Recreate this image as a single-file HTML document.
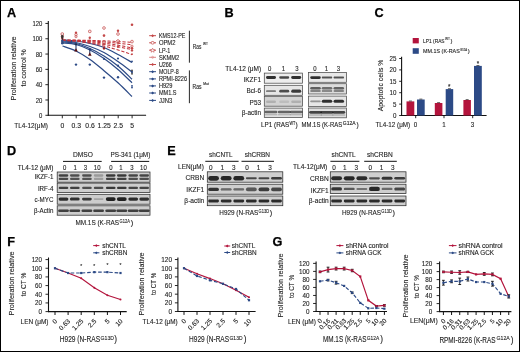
<!DOCTYPE html><html><head><meta charset="utf-8"><style>html,body{margin:0;padding:0;background:#fff}svg{display:block;filter:blur(0.3px)}</style></head><body>
<svg width="520" height="352" viewBox="0 0 520 352" font-family='"Liberation Sans", sans-serif' fill="#222">
<style>text{stroke:#2a2a2a;stroke-width:0.12px}</style>
<defs><filter id="bl" x="-20%" y="-100%" width="140%" height="300%"><feGaussianBlur stdDeviation="0.55"/></filter><filter id="bl2" x="-20%" y="-100%" width="140%" height="300%"><feGaussianBlur stdDeviation="0.45"/></filter></defs>
<rect x="0" y="0" width="520" height="352" fill="#fff"/>
<text x="7.1" y="17.1" font-size="12.7" font-weight="bold" fill="#000" style="stroke:#000;stroke-width:0.25px">A</text>
<text x="224.4" y="17.1" font-size="12.7" font-weight="bold" fill="#000" style="stroke:#000;stroke-width:0.25px">B</text>
<text x="374.5" y="17.1" font-size="12.7" font-weight="bold" fill="#000" style="stroke:#000;stroke-width:0.25px">C</text>
<text x="7.1" y="155.0" font-size="12.7" font-weight="bold" fill="#000" style="stroke:#000;stroke-width:0.25px">D</text>
<text x="167.3" y="155.0" font-size="12.7" font-weight="bold" fill="#000" style="stroke:#000;stroke-width:0.25px">E</text>
<text x="7.3" y="246.3" font-size="12.7" font-weight="bold" fill="#000" style="stroke:#000;stroke-width:0.25px">F</text>
<text x="272.5" y="246.2" font-size="12.7" font-weight="bold" fill="#000" style="stroke:#000;stroke-width:0.25px">G</text>
<line x1="48.3" y1="21" x2="48.3" y2="115.8" stroke="#111" stroke-width="1.1"/>
<line x1="47.8" y1="115.3" x2="146.1" y2="115.3" stroke="#111" stroke-width="1.1"/>
<line x1="45.4" y1="115.3" x2="48.3" y2="115.3" stroke="#111" stroke-width="0.9"/>
<text x="42.4" y="117.88" font-size="7.17" text-anchor="end" textLength="3.3" lengthAdjust="spacingAndGlyphs">0</text>
<line x1="45.4" y1="99.99" x2="48.3" y2="99.99" stroke="#111" stroke-width="0.9"/>
<text x="42.4" y="102.57" font-size="7.17" text-anchor="end" textLength="6.6" lengthAdjust="spacingAndGlyphs">20</text>
<line x1="45.4" y1="84.68" x2="48.3" y2="84.68" stroke="#111" stroke-width="0.9"/>
<text x="42.4" y="87.26" font-size="7.17" text-anchor="end" textLength="6.6" lengthAdjust="spacingAndGlyphs">40</text>
<line x1="45.4" y1="69.37" x2="48.3" y2="69.37" stroke="#111" stroke-width="0.9"/>
<text x="42.4" y="71.95" font-size="7.17" text-anchor="end" textLength="6.6" lengthAdjust="spacingAndGlyphs">60</text>
<line x1="45.4" y1="54.06" x2="48.3" y2="54.06" stroke="#111" stroke-width="0.9"/>
<text x="42.4" y="56.64" font-size="7.17" text-anchor="end" textLength="6.6" lengthAdjust="spacingAndGlyphs">80</text>
<line x1="45.4" y1="38.75" x2="48.3" y2="38.75" stroke="#111" stroke-width="0.9"/>
<text x="42.4" y="41.33" font-size="7.17" text-anchor="end" textLength="9.9" lengthAdjust="spacingAndGlyphs">100</text>
<line x1="45.4" y1="23.44" x2="48.3" y2="23.44" stroke="#111" stroke-width="0.9"/>
<text x="42.4" y="26.02" font-size="7.17" text-anchor="end" textLength="9.9" lengthAdjust="spacingAndGlyphs">120</text>
<line x1="62.3" y1="115.3" x2="62.3" y2="118.3" stroke="#111" stroke-width="0.9"/>
<text x="62.3" y="127.55" font-size="6.8" text-anchor="middle">0</text>
<line x1="76.2" y1="115.3" x2="76.2" y2="118.3" stroke="#111" stroke-width="0.9"/>
<text x="76.2" y="127.55" font-size="6.8" text-anchor="middle">0.3</text>
<line x1="90.1" y1="115.3" x2="90.1" y2="118.3" stroke="#111" stroke-width="0.9"/>
<text x="90.1" y="127.55" font-size="6.8" text-anchor="middle">0.6</text>
<line x1="104.2" y1="115.3" x2="104.2" y2="118.3" stroke="#111" stroke-width="0.9"/>
<text x="104.2" y="127.55" font-size="6.8" text-anchor="middle">1.25</text>
<line x1="118.2" y1="115.3" x2="118.2" y2="118.3" stroke="#111" stroke-width="0.9"/>
<text x="118.2" y="127.55" font-size="6.8" text-anchor="middle">2.5</text>
<line x1="132.1" y1="115.3" x2="132.1" y2="118.3" stroke="#111" stroke-width="0.9"/>
<text x="132.1" y="127.55" font-size="6.8" text-anchor="middle">5</text>
<text x="14.2" y="127.64" font-size="7.62" textLength="33.8" lengthAdjust="spacingAndGlyphs">TL4-12(μM)</text>
<text x="0" y="0" font-size="7.78" text-anchor="middle" textLength="64" lengthAdjust="spacingAndGlyphs" transform="translate(15.8 68.4) rotate(-90)">Proliferation relative</text>
<text x="0" y="0" font-size="7.78" text-anchor="middle" textLength="37.3" lengthAdjust="spacingAndGlyphs" transform="translate(26 67.9) rotate(-90)">to control %</text>
<path d="M62.5,40 C64.75,40.17 71.42,40.42 76,41 C80.58,41.58 85.33,42.42 90,43.5 C94.67,44.58 99.33,45.67 104,47.5 C108.67,49.33 113.33,52 118,54.5 C122.67,57 129.67,61.17 132,62.5" fill="none" stroke="#2c4a86" stroke-width="1.25"/>
<path d="M62.5,41 C64.75,41.25 71.42,41.58 76,42.5 C80.58,43.42 85.33,44.83 90,46.5 C94.67,48.17 99.33,50 104,52.5 C108.67,55 113.33,58.25 118,61.5 C122.67,64.75 129.67,70.25 132,72" fill="none" stroke="#2c4a86" stroke-width="1.25"/>
<path d="M62.5,42 C64.75,42.25 71.42,42.42 76,43.5 C80.58,44.58 85.33,46.42 90,48.5 C94.67,50.58 99.33,53.08 104,56 C108.67,58.92 113.33,62.13 118,66 C122.67,69.87 129.67,77 132,79.2" fill="none" stroke="#2c4a86" stroke-width="1.25"/>
<path d="M62.5,43 C64.75,43.25 71.42,43.33 76,44.5 C80.58,45.67 85.33,47.67 90,50 C94.67,52.33 99.33,55.25 104,58.5 C108.67,61.75 113.33,65.45 118,69.5 C122.67,73.55 129.67,80.58 132,82.8" fill="none" stroke="#2c4a86" stroke-width="1.25"/>
<path d="M62.5,46 C64.75,46.83 71.42,48.75 76,51 C80.58,53.25 85.33,56.22 90,59.5 C94.67,62.78 99.33,66.82 104,70.7 C108.67,74.58 113.33,78.5 118,82.8 C122.67,87.1 129.67,94.22 132,96.5" fill="none" stroke="#2c4a86" stroke-width="1.25"/>
<polyline points="62.5,40 64.82,40 67.14,40.01 69.46,40.02 71.78,40.04 74.1,40.07 76.42,40.1 78.74,40.13 81.06,40.17 83.38,40.22 85.7,40.27 88.02,40.32 90.34,40.38 92.66,40.45 94.98,40.52 97.3,40.6 99.62,40.68 101.94,40.77 104.26,40.86 106.58,40.96 108.9,41.07 111.22,41.18 113.54,41.29 115.86,41.41 118.18,41.54 120.5,41.67 122.82,41.8 125.14,41.94 127.46,42.09 129.78,42.24 132.1,42.4" fill="none" stroke="#c0323a" stroke-width="1.05" stroke-dasharray="3.2,1.8"/>
<polyline points="62.5,40.2 64.82,40.21 67.14,40.22 69.46,40.25 71.78,40.28 74.1,40.33 76.42,40.39 78.74,40.46 81.06,40.53 83.38,40.62 85.7,40.72 88.02,40.83 90.34,40.95 92.66,41.08 94.98,41.22 97.3,41.38 99.62,41.54 101.94,41.71 104.26,41.89 106.58,42.09 108.9,42.29 111.22,42.5 113.54,42.73 115.86,42.96 118.18,43.21 120.5,43.46 122.82,43.73 125.14,44.01 127.46,44.29 129.78,44.59 132.1,44.9" fill="none" stroke="#c0323a" stroke-width="1.05" stroke-dasharray="3.2,1.8"/>
<polyline points="62.5,40.3 64.82,40.31 67.14,40.34 69.46,40.4 71.78,40.47 74.1,40.55 76.42,40.66 78.74,40.78 81.06,40.92 83.38,41.07 85.7,41.24 88.02,41.43 90.34,41.63 92.66,41.85 94.98,42.09 97.3,42.34 99.62,42.6 101.94,42.88 104.26,43.18 106.58,43.49 108.9,43.82 111.22,44.16 113.54,44.52 115.86,44.89 118.18,45.27 120.5,45.67 122.82,46.09 125.14,46.52 127.46,46.97 129.78,47.43 132.1,47.9" fill="none" stroke="#c0323a" stroke-width="1.05" stroke-dasharray="3.2,1.8"/>
<polyline points="62.5,40.4 64.82,40.44 67.14,40.52 69.46,40.63 71.78,40.77 74.1,40.92 76.42,41.1 78.74,41.3 81.06,41.51 83.38,41.74 85.7,41.99 88.02,42.25 90.34,42.52 92.66,42.81 94.98,43.12 97.3,43.43 99.62,43.77 101.94,44.11 104.26,44.46 106.58,44.83 108.9,45.21 111.22,45.6 113.54,46 115.86,46.41 118.18,46.84 120.5,47.27 122.82,47.72 125.14,48.17 127.46,48.64 129.78,49.11 132.1,49.6" fill="none" stroke="#c0323a" stroke-width="1.05" stroke-dasharray="3.2,1.8"/>
<polyline points="62.5,40.5 64.82,40.53 67.14,40.61 69.46,40.73 71.78,40.88 74.1,41.06 76.42,41.28 78.74,41.53 81.06,41.82 83.38,42.13 85.7,42.47 88.02,42.83 90.34,43.23 92.66,43.65 94.98,44.1 97.3,44.58 99.62,45.08 101.94,45.61 104.26,46.16 106.58,46.74 108.9,47.34 111.22,47.97 113.54,48.63 115.86,49.3 118.18,50 120.5,50.73 122.82,51.48 125.14,52.25 127.46,53.04 129.78,53.86 132.1,54.7" fill="none" stroke="#c0323a" stroke-width="1.05" stroke-dasharray="3.2,1.8"/>
<rect x="61.1" y="32.8" width="2.4" height="2.4" rx="0.72" fill="#fff" fill-opacity="0.5" stroke="#c44848" stroke-width="0.8"/>
<circle cx="62.3" cy="36.6" r="1.1" fill="none" stroke="#c44848" stroke-width="0.7"/>
<circle cx="62.3" cy="38.4" r="1.2" fill="#c44848"/>
<line x1="62.3" y1="35.8" x2="62.3" y2="43" stroke="#222" stroke-width="1"/>
<line x1="61" y1="35.8" x2="63.6" y2="35.8" stroke="#222" stroke-width="0.9"/>
<line x1="61" y1="43" x2="63.6" y2="43" stroke="#222" stroke-width="0.9"/>
<circle cx="62.3" cy="37" r="1.2" fill="#333"/>
<circle cx="62.3" cy="41" r="1.3" fill="#2c4a86"/>
<circle cx="62.3" cy="43.3" r="1.2" fill="#2c4a86"/>
<circle cx="76" cy="32.8" r="1.2" fill="#c44848"/>
<rect x="74.9" y="33.5" width="2.2" height="2.2" rx="0.66" fill="#fff" fill-opacity="0.5" stroke="#c44848" stroke-width="0.8"/>
<circle cx="76" cy="36.7" r="1.1" fill="none" stroke="#c44848" stroke-width="0.7"/>
<circle cx="76" cy="44.3" r="1.2" fill="#2c4a86"/>
<line x1="76" y1="44" x2="76" y2="50.5" stroke="#233a6a" stroke-width="1.1"/>
<line x1="74.9" y1="44.2" x2="77.1" y2="44.2" stroke="#222" stroke-width="0.8"/>
<path d="M76,48.2 L77.8,51.44 L74.2,51.44Z" fill="#5a1010"/>
<circle cx="76" cy="64.6" r="1.2" fill="#2c4a86"/>
<rect x="88.6" y="30.2" width="2.4" height="2.4" rx="0.72" fill="#fff" fill-opacity="0.5" stroke="#c44848" stroke-width="0.8"/>
<circle cx="89.8" cy="37.8" r="1.2" fill="#c44848"/>
<circle cx="89.8" cy="41" r="1" fill="none" stroke="#c44848" stroke-width="0.7"/>
<circle cx="89.8" cy="49.3" r="1.2" fill="#2c4a86"/>
<line x1="89.8" y1="49" x2="89.8" y2="55" stroke="#233a6a" stroke-width="1.1"/>
<path d="M89.8,52.6 L91.6,55.84 L88,55.84Z" fill="#5a1010"/>
<circle cx="89.8" cy="64.6" r="1.2" fill="#2c4a86"/>
<rect x="102.8" y="26.8" width="2.4" height="2.4" rx="0.72" fill="#fff" fill-opacity="0.5" stroke="#c44848" stroke-width="0.8"/>
<circle cx="104" cy="35.6" r="1.3" fill="#c44848"/>
<path d="M104,40.3 L104.53,41.57 L105.9,41.68 L104.86,42.58 L105.18,43.92 L104,43.2 L102.82,43.92 L103.14,42.58 L102.1,41.68 L103.47,41.57Z" fill="#fff" fill-opacity="0.6" stroke="#c44848" stroke-width="0.6"/>
<circle cx="104" cy="44.2" r="1" fill="none" stroke="#c44848" stroke-width="0.7"/>
<circle cx="104" cy="48.4" r="1.2" fill="#a02020"/>
<circle cx="104" cy="58.9" r="1.1" fill="#2c4a86"/>
<circle cx="104" cy="77.6" r="1.2" fill="#2c4a86"/>
<circle cx="118" cy="30.8" r="1.2" fill="#c44848"/>
<rect x="116.8" y="32.8" width="2.4" height="2.4" rx="0.72" fill="#fff" fill-opacity="0.5" stroke="#c44848" stroke-width="0.8"/>
<path d="M118,39.1 L118.56,40.44 L120,40.55 L118.9,41.49 L119.23,42.9 L118,42.15 L116.77,42.9 L117.1,41.49 L116,40.55 L117.44,40.44Z" fill="#fff" fill-opacity="0.6" stroke="#c44848" stroke-width="0.6"/>
<circle cx="118" cy="43" r="1" fill="none" stroke="#c44848" stroke-width="0.7"/>
<circle cx="118" cy="46.8" r="1.2" fill="#c44848"/>
<circle cx="118" cy="58.5" r="1.1" fill="#2c4a86"/>
<circle cx="118" cy="65.7" r="1.1" fill="#2c4a86"/>
<circle cx="118" cy="77.3" r="1.2" fill="#2c4a86"/>
<circle cx="132" cy="24.8" r="1.3" fill="#c44848"/>
<rect x="130.8" y="40.4" width="2.4" height="2.4" rx="0.72" fill="#fff" fill-opacity="0.5" stroke="#c44848" stroke-width="0.8"/>
<circle cx="132" cy="46.2" r="1.1" fill="none" stroke="#c44848" stroke-width="0.7"/>
<circle cx="132" cy="48.2" r="1.3" fill="#c44848"/>
<circle cx="132" cy="50.4" r="1.2" fill="#c44848"/>
<circle cx="132" cy="54.2" r="0.9" fill="#c44848"/>
<circle cx="132" cy="61.4" r="0.9" fill="#2c4a86"/>
<line x1="132" y1="70.2" x2="132" y2="74" stroke="#222" stroke-width="0.9"/>
<line x1="131" y1="70.2" x2="133" y2="70.2" stroke="#222" stroke-width="0.8"/>
<line x1="131" y1="74" x2="133" y2="74" stroke="#222" stroke-width="0.8"/>
<circle cx="132" cy="72" r="1" fill="#2c4a86"/>
<circle cx="132" cy="85.8" r="0.9" fill="#2c4a86"/>
<circle cx="132" cy="87.5" r="0.9" fill="#2c4a86"/>
<line x1="149.2" y1="35.7" x2="156" y2="35.7" stroke="#c44848" stroke-width="1"/>
<path d="M152.6,34.2 L154.1,35.7 L152.6,37.2 L151.1,35.7Z" fill="#c44848"/>
<text x="158.9" y="38" font-size="6.38" textLength="26.4" lengthAdjust="spacingAndGlyphs">KMS12-PE</text>
<line x1="149.2" y1="42.8" x2="156" y2="42.8" stroke="#c44848" stroke-width="1"/>
<rect x="151.3" y="41.5" width="2.6" height="2.6" rx="0.8" fill="#fff" stroke="#c44848" stroke-width="0.7"/>
<text x="158.9" y="45.1" font-size="6.38" textLength="16.6" lengthAdjust="spacingAndGlyphs">OPM2</text>
<line x1="149.2" y1="50.2" x2="156" y2="50.2" stroke="#c44848" stroke-width="1"/>
<path d="M152.6,48.2 L153.3,49.7 L154.9,49.8 L153.7,50.8 L154.1,52.2 L152.6,51.4 L151.1,52.2 L151.5,50.8 L150.3,49.8 L151.9,49.7Z" fill="#fff" stroke="#c44848" stroke-width="0.6"/>
<text x="158.9" y="52.5" font-size="6.38" textLength="11.5" lengthAdjust="spacingAndGlyphs">LP-1</text>
<line x1="149.2" y1="57.3" x2="156" y2="57.3" stroke="#d88" stroke-width="1"/>
<circle cx="152.6" cy="57.3" r="1" fill="none" stroke="#d88" stroke-width="0.7"/>
<text x="158.9" y="59.6" font-size="6.38" textLength="20.4" lengthAdjust="spacingAndGlyphs">SKMM2</text>
<line x1="149.2" y1="64.5" x2="156" y2="64.5" stroke="#c44848" stroke-width="1"/>
<path d="M152.6,63 L154.1,64.5 L152.6,66 L151.1,64.5Z" fill="#c44848"/>
<text x="158.9" y="66.8" font-size="6.38" textLength="13" lengthAdjust="spacingAndGlyphs">U266</text>
<line x1="149.2" y1="71.7" x2="156" y2="71.7" stroke="#2c4a86" stroke-width="1"/>
<path d="M152.6,70.2 L154.1,71.7 L152.6,73.2 L151.1,71.7Z" fill="#2c4a86"/>
<text x="158.9" y="74" font-size="6.38" textLength="19.7" lengthAdjust="spacingAndGlyphs">MOLP-8</text>
<line x1="149.2" y1="78.9" x2="156" y2="78.9" stroke="#2c4a86" stroke-width="1"/>
<path d="M152.6,77.4 L154.1,78.9 L152.6,80.4 L151.1,78.9Z" fill="#2c4a86"/>
<text x="158.9" y="81.2" font-size="6.38" textLength="28.1" lengthAdjust="spacingAndGlyphs">RPMI-8226</text>
<line x1="149.2" y1="85.9" x2="156" y2="85.9" stroke="#2c4a86" stroke-width="1"/>
<path d="M152.6,84.4 L154.1,85.9 L152.6,87.4 L151.1,85.9Z" fill="#2c4a86"/>
<text x="158.9" y="88.2" font-size="6.38" textLength="13.5" lengthAdjust="spacingAndGlyphs">H929</text>
<line x1="149.2" y1="93" x2="156" y2="93" stroke="#2c4a86" stroke-width="1"/>
<path d="M152.6,91.5 L154.1,93 L152.6,94.5 L151.1,93Z" fill="#2c4a86"/>
<text x="158.9" y="95.3" font-size="6.38" textLength="17.6" lengthAdjust="spacingAndGlyphs">MM1.S</text>
<line x1="149.2" y1="100.4" x2="156" y2="100.4" stroke="#2c4a86" stroke-width="1"/>
<path d="M152.6,98.9 L154.1,100.4 L152.6,101.9 L151.1,100.4Z" fill="#2c4a86"/>
<text x="158.9" y="102.7" font-size="6.38" textLength="13.5" lengthAdjust="spacingAndGlyphs">JJN3</text>
<line x1="189.4" y1="30.7" x2="189.4" y2="62.7" stroke="#111" stroke-width="0.9"/>
<line x1="189.4" y1="70.4" x2="189.4" y2="103.2" stroke="#111" stroke-width="0.9"/>
<text x="192.8" y="48.7" font-size="6.4" textLength="8.5" lengthAdjust="spacingAndGlyphs">Ras</text><text x="203" y="45.1" font-size="3.4" textLength="4.9" lengthAdjust="spacingAndGlyphs">WT</text>
<text x="192.6" y="88.6" font-size="6.4" textLength="8.9" lengthAdjust="spacingAndGlyphs">Ras</text><text x="203.3" y="85.0" font-size="3.4" textLength="5.6" lengthAdjust="spacingAndGlyphs">Mut</text>
<text x="225.3" y="70.92" font-size="6.72" textLength="35.9" lengthAdjust="spacingAndGlyphs">TL4-12 (μM)</text>
<text x="269.7" y="70.92" font-size="6.72" text-anchor="middle" textLength="3.34" lengthAdjust="spacingAndGlyphs">0</text>
<text x="283.3" y="70.92" font-size="6.72" text-anchor="middle" textLength="3.34" lengthAdjust="spacingAndGlyphs">1</text>
<text x="296.8" y="70.92" font-size="6.72" text-anchor="middle" textLength="3.34" lengthAdjust="spacingAndGlyphs">3</text>
<text x="314.8" y="70.92" font-size="6.72" text-anchor="middle" textLength="3.34" lengthAdjust="spacingAndGlyphs">0</text>
<text x="326.3" y="70.92" font-size="6.72" text-anchor="middle" textLength="3.34" lengthAdjust="spacingAndGlyphs">1</text>
<text x="338.3" y="70.92" font-size="6.72" text-anchor="middle" textLength="3.34" lengthAdjust="spacingAndGlyphs">3</text>
<text x="261" y="82.38" font-size="7.17" text-anchor="end" textLength="17.42" lengthAdjust="spacingAndGlyphs">IKZF1</text>
<text x="261" y="93.48" font-size="7.17" text-anchor="end" textLength="14.58" lengthAdjust="spacingAndGlyphs">Bcl-6</text>
<text x="261" y="105.18" font-size="7.17" text-anchor="end" textLength="11.39" lengthAdjust="spacingAndGlyphs">P53</text>
<text x="261" y="115.28" font-size="7.17" text-anchor="end" textLength="19.33" lengthAdjust="spacingAndGlyphs">β-actin</text>
<rect x="264.3" y="73.1" width="38.3" height="10.1" fill="#ededed" stroke="#4a4a4a" stroke-width="0.75"/>
<rect x="264.3" y="85.3" width="38.3" height="10" fill="#e6e6e6" stroke="#4a4a4a" stroke-width="0.75"/>
<rect x="264.3" y="96.3" width="38.3" height="9.9" fill="#d2d2d2" stroke="#4a4a4a" stroke-width="0.75"/>
<rect x="264.3" y="108.1" width="38.3" height="9.5" fill="#e0e0e0" stroke="#4a4a4a" stroke-width="0.75"/>
<rect x="308.6" y="72.4" width="37.8" height="9.9" fill="#e8e8e8" stroke="#4a4a4a" stroke-width="0.75"/>
<rect x="308.6" y="83.7" width="37.8" height="10.3" fill="#dcdcdc" stroke="#4a4a4a" stroke-width="0.75"/>
<rect x="308.6" y="96.1" width="37.8" height="10.4" fill="#e6e6e6" stroke="#4a4a4a" stroke-width="0.75"/>
<rect x="308.6" y="108" width="37.8" height="9.8" fill="#dedede" stroke="#4a4a4a" stroke-width="0.75"/>
<rect x="266" y="76.1" width="10" height="2.8" rx="1.4" fill="#111" fill-opacity="0.85" filter="url(#bl)"/>
<rect x="279.2" y="76.35" width="10" height="2.3" rx="1.15" fill="#111" fill-opacity="0.75" filter="url(#bl)"/>
<rect x="291.2" y="76.1" width="10" height="2.8" rx="1.4" fill="#111" fill-opacity="0.85" filter="url(#bl)"/>
<rect x="266" y="90.3" width="10" height="1.8" rx="0.9" fill="#111" fill-opacity="0.5" filter="url(#bl)"/>
<rect x="279.2" y="89.8" width="10" height="2.8" rx="1.4" fill="#111" fill-opacity="0.72" filter="url(#bl)"/>
<rect x="291.2" y="89.55" width="10" height="3.3" rx="1.65" fill="#111" fill-opacity="0.8" filter="url(#bl)"/>
<rect x="266" y="100.6" width="10" height="2.4" rx="1.2" fill="#111" fill-opacity="0.16" filter="url(#bl)"/>
<rect x="279.2" y="100.6" width="10" height="2.4" rx="1.2" fill="#111" fill-opacity="0.1" filter="url(#bl)"/>
<rect x="291.2" y="100.6" width="10" height="2.4" rx="1.2" fill="#111" fill-opacity="0.16" filter="url(#bl)"/>
<rect x="264.6" y="110.7" width="12.8" height="2.6" rx="1.3" fill="#111" fill-opacity="0.6" filter="url(#bl)"/>
<rect x="264.6" y="114.3" width="12.8" height="1" rx="0.5" fill="#111" fill-opacity="0.25" filter="url(#bl)"/>
<rect x="277.8" y="110.7" width="12.8" height="2.6" rx="1.3" fill="#111" fill-opacity="0.6" filter="url(#bl)"/>
<rect x="277.8" y="114.3" width="12.8" height="1" rx="0.5" fill="#111" fill-opacity="0.25" filter="url(#bl)"/>
<rect x="289.8" y="110.7" width="12.8" height="2.6" rx="1.3" fill="#111" fill-opacity="0.6" filter="url(#bl)"/>
<rect x="289.8" y="114.3" width="12.8" height="1" rx="0.5" fill="#111" fill-opacity="0.25" filter="url(#bl)"/>
<rect x="310.25" y="76.3" width="10.5" height="2.6" rx="1.3" fill="#111" fill-opacity="0.85" filter="url(#bl)"/>
<rect x="321.75" y="76.6" width="10.5" height="2" rx="1" fill="#111" fill-opacity="0.7" filter="url(#bl)"/>
<rect x="333.55" y="76.6" width="10.5" height="2" rx="1" fill="#111" fill-opacity="0.7" filter="url(#bl)"/>
<rect x="310.25" y="86.9" width="10.5" height="2.6" rx="1.3" fill="#111" fill-opacity="0.62" filter="url(#bl)"/>
<rect x="321.75" y="86.9" width="10.5" height="2.6" rx="1.3" fill="#111" fill-opacity="0.55" filter="url(#bl)"/>
<rect x="333.55" y="86.9" width="10.5" height="2.6" rx="1.3" fill="#111" fill-opacity="0.6" filter="url(#bl)"/>
<rect x="310.25" y="90" width="10.5" height="2" rx="1" fill="#111" fill-opacity="0.45" filter="url(#bl)"/>
<rect x="321.75" y="90" width="10.5" height="2" rx="1" fill="#111" fill-opacity="0.42" filter="url(#bl)"/>
<rect x="333.55" y="90" width="10.5" height="2" rx="1" fill="#111" fill-opacity="0.45" filter="url(#bl)"/>
<rect x="310.25" y="100.4" width="10.5" height="1.8" rx="0.9" fill="#111" fill-opacity="0.4" filter="url(#bl)"/>
<rect x="321.75" y="99.8" width="10.5" height="3" rx="1.5" fill="#111" fill-opacity="0.85" filter="url(#bl)"/>
<rect x="333.55" y="99.8" width="10.5" height="3" rx="1.5" fill="#111" fill-opacity="0.85" filter="url(#bl)"/>
<rect x="309.1" y="110.9" width="12.8" height="2.8" rx="1.4" fill="#111" fill-opacity="0.75" filter="url(#bl)"/>
<rect x="309.1" y="114.5" width="12.8" height="1" rx="0.5" fill="#111" fill-opacity="0.3" filter="url(#bl)"/>
<rect x="320.6" y="110.9" width="12.8" height="2.8" rx="1.4" fill="#111" fill-opacity="0.75" filter="url(#bl)"/>
<rect x="320.6" y="114.5" width="12.8" height="1" rx="0.5" fill="#111" fill-opacity="0.3" filter="url(#bl)"/>
<rect x="332.4" y="110.9" width="12.8" height="2.8" rx="1.4" fill="#111" fill-opacity="0.75" filter="url(#bl)"/>
<rect x="332.4" y="114.5" width="12.8" height="1" rx="0.5" fill="#111" fill-opacity="0.3" filter="url(#bl)"/>
<text x="261" y="127.4" font-size="6.6" textLength="28.2" lengthAdjust="spacingAndGlyphs">LP1 (RAS</text>
<text x="289.4" y="124.6" font-size="4.5" textLength="5.8" lengthAdjust="spacingAndGlyphs">WT</text>
<text x="295.6" y="127.4" font-size="6.6">)</text>
<text x="301.6" y="127.4" font-size="6.6" textLength="40.5" lengthAdjust="spacingAndGlyphs">MM.1S (K-RAS</text>
<text x="342.8" y="124.6" font-size="4.5" textLength="12.8" lengthAdjust="spacingAndGlyphs">G12A</text>
<text x="356.6" y="127.4" font-size="6.6">)</text>
<line x1="401.6" y1="56.8" x2="401.6" y2="116" stroke="#111" stroke-width="1.1"/>
<line x1="401.1" y1="115.5" x2="486.6" y2="115.5" stroke="#111" stroke-width="1.1"/>
<line x1="399.2" y1="115.5" x2="401.6" y2="115.5" stroke="#111" stroke-width="0.9"/>
<text x="396.4" y="118" font-size="6.94" text-anchor="end" textLength="3.45" lengthAdjust="spacingAndGlyphs">0</text>
<line x1="399.2" y1="104.1" x2="401.6" y2="104.1" stroke="#111" stroke-width="0.9"/>
<text x="396.4" y="106.6" font-size="6.94" text-anchor="end" textLength="3.45" lengthAdjust="spacingAndGlyphs">5</text>
<line x1="399.2" y1="92.7" x2="401.6" y2="92.7" stroke="#111" stroke-width="0.9"/>
<text x="396.4" y="95.2" font-size="6.94" text-anchor="end" textLength="6.9" lengthAdjust="spacingAndGlyphs">10</text>
<line x1="399.2" y1="81.3" x2="401.6" y2="81.3" stroke="#111" stroke-width="0.9"/>
<text x="396.4" y="83.8" font-size="6.94" text-anchor="end" textLength="6.9" lengthAdjust="spacingAndGlyphs">15</text>
<line x1="399.2" y1="69.9" x2="401.6" y2="69.9" stroke="#111" stroke-width="0.9"/>
<text x="396.4" y="72.4" font-size="6.94" text-anchor="end" textLength="6.9" lengthAdjust="spacingAndGlyphs">20</text>
<line x1="399.2" y1="58.5" x2="401.6" y2="58.5" stroke="#111" stroke-width="0.9"/>
<text x="396.4" y="61" font-size="6.94" text-anchor="end" textLength="6.9" lengthAdjust="spacingAndGlyphs">25</text>
<line x1="415.7" y1="115.5" x2="415.7" y2="118.2" stroke="#111" stroke-width="0.9"/>
<line x1="444" y1="115.5" x2="444" y2="118.2" stroke="#111" stroke-width="0.9"/>
<line x1="472.7" y1="115.5" x2="472.7" y2="118.2" stroke="#111" stroke-width="0.9"/>
<text x="375.4" y="126.92" font-size="6.72" textLength="34.8" lengthAdjust="spacingAndGlyphs">TL4-12 (μM)</text>
<text x="415.4" y="127" font-size="6.94" text-anchor="middle" textLength="3.45" lengthAdjust="spacingAndGlyphs">0</text>
<text x="443.9" y="127" font-size="6.94" text-anchor="middle" textLength="3.45" lengthAdjust="spacingAndGlyphs">1</text>
<text x="472.5" y="127" font-size="6.94" text-anchor="middle" textLength="3.45" lengthAdjust="spacingAndGlyphs">3</text>
<text x="0" y="0" font-size="7.45" text-anchor="middle" textLength="51.5" lengthAdjust="spacingAndGlyphs" transform="translate(382.88 85.5) rotate(-90)">Apoptotic cells %</text>
<rect x="406.5" y="101.4" width="7.8" height="14.1" fill="#b3143c"/>
<line x1="408.9" y1="101" x2="411.9" y2="101" stroke="#222" stroke-width="0.7"/>
<rect x="417" y="99.5" width="7.7" height="16" fill="#2c4a86"/>
<line x1="419.35" y1="99.1" x2="422.35" y2="99.1" stroke="#222" stroke-width="0.7"/>
<rect x="434.8" y="103" width="7.6" height="12.5" fill="#b3143c"/>
<line x1="437.1" y1="102.6" x2="440.1" y2="102.6" stroke="#222" stroke-width="0.7"/>
<rect x="445.7" y="89.1" width="7.5" height="26.4" fill="#2c4a86"/>
<line x1="447.95" y1="88.7" x2="450.95" y2="88.7" stroke="#222" stroke-width="0.7"/>
<rect x="463.4" y="100" width="7.5" height="15.5" fill="#b3143c"/>
<line x1="465.65" y1="99.6" x2="468.65" y2="99.6" stroke="#222" stroke-width="0.7"/>
<rect x="474" y="65.9" width="7.8" height="49.6" fill="#2c4a86"/>
<line x1="476.4" y1="65.5" x2="479.4" y2="65.5" stroke="#222" stroke-width="0.7"/>
<text x="449.3" y="89.2" font-size="6.94" text-anchor="middle" textLength="2.41" lengthAdjust="spacingAndGlyphs">*</text>
<text x="478" y="65.8" font-size="6.94" text-anchor="middle" textLength="2.41" lengthAdjust="spacingAndGlyphs">*</text>
<rect x="412.7" y="38" width="6.1" height="5.4" fill="#b3143c"/>
<rect x="412.7" y="48.2" width="6.1" height="5.6" fill="#2c4a86"/>
<text x="423.1" y="42.6" font-size="5.8" textLength="21.5" lengthAdjust="spacingAndGlyphs">LP1 (RAS</text>
<text x="445" y="40.3" font-size="3.62" textLength="5" lengthAdjust="spacingAndGlyphs">WT</text>
<text x="450.4" y="42.6" font-size="5.8">)</text>
<text x="423.1" y="53.1" font-size="5.8" textLength="36.7" lengthAdjust="spacingAndGlyphs">MM.1S (K-RAS</text>
<text x="460.2" y="50.8" font-size="3.62" textLength="7" lengthAdjust="spacingAndGlyphs">G12A</text>
<text x="467.7" y="53.1" font-size="5.8">)</text>
<text x="72.9" y="157.08" font-size="7.17" textLength="19.9" lengthAdjust="spacingAndGlyphs">DMSO</text>
<line x1="63" y1="161.4" x2="101.7" y2="161.4" stroke="#111" stroke-width="1"/>
<text x="110.4" y="156.98" font-size="7.17" textLength="39.9" lengthAdjust="spacingAndGlyphs">PS-341 (1μM)</text>
<line x1="111.1" y1="161.4" x2="149.2" y2="161.4" stroke="#111" stroke-width="1"/>
<text x="17.7" y="170.4" font-size="6.94" textLength="35.7" lengthAdjust="spacingAndGlyphs">TL4-12 (μM)</text>
<text x="64.6" y="170.12" font-size="6.72" text-anchor="middle" textLength="3.34" lengthAdjust="spacingAndGlyphs">0</text>
<text x="75.1" y="170.12" font-size="6.72" text-anchor="middle" textLength="3.34" lengthAdjust="spacingAndGlyphs">1</text>
<text x="85.3" y="170.12" font-size="6.72" text-anchor="middle" textLength="3.34" lengthAdjust="spacingAndGlyphs">3</text>
<text x="97.2" y="170.12" font-size="6.72" text-anchor="middle" textLength="6.67" lengthAdjust="spacingAndGlyphs">10</text>
<text x="110.8" y="170.12" font-size="6.72" text-anchor="middle" textLength="3.34" lengthAdjust="spacingAndGlyphs">0</text>
<text x="120.9" y="170.12" font-size="6.72" text-anchor="middle" textLength="3.34" lengthAdjust="spacingAndGlyphs">1</text>
<text x="131.8" y="170.12" font-size="6.72" text-anchor="middle" textLength="3.34" lengthAdjust="spacingAndGlyphs">3</text>
<text x="143.4" y="170.12" font-size="6.72" text-anchor="middle" textLength="6.67" lengthAdjust="spacingAndGlyphs">10</text>
<text x="53.4" y="179.3" font-size="6.94" text-anchor="end" textLength="18.94" lengthAdjust="spacingAndGlyphs">IKZF-1</text>
<text x="53.4" y="190.7" font-size="6.94" text-anchor="end" textLength="15.5" lengthAdjust="spacingAndGlyphs">IRF-4</text>
<text x="53.4" y="202.3" font-size="6.94" text-anchor="end" textLength="18.94" lengthAdjust="spacingAndGlyphs">c-MYC</text>
<text x="53.4" y="213" font-size="6.94" text-anchor="end" textLength="19.41" lengthAdjust="spacingAndGlyphs">β-Actin</text>
<rect x="57.2" y="172" width="92.8" height="10.2" fill="#cdcdcd" stroke="#2a2a2a" stroke-width="0.75"/>
<rect x="57.2" y="183.1" width="92.8" height="9.4" fill="#cdcdcd" stroke="#2a2a2a" stroke-width="0.75"/>
<rect x="57.2" y="194.3" width="92.8" height="9.9" fill="#cdcdcd" stroke="#2a2a2a" stroke-width="0.75"/>
<rect x="57.2" y="205.8" width="92.8" height="9.4" fill="#cdcdcd" stroke="#2a2a2a" stroke-width="0.75"/>
<rect x="58.7" y="174.35" width="9.6" height="2.3" rx="1.15" fill="#111" fill-opacity="0.75" filter="url(#bl)"/>
<rect x="58.7" y="177.8" width="9.6" height="2.2" rx="1.1" fill="#111" fill-opacity="0.71" filter="url(#bl)"/>
<rect x="70" y="174.35" width="9.6" height="2.3" rx="1.15" fill="#111" fill-opacity="0.68" filter="url(#bl)"/>
<rect x="70" y="177.8" width="9.6" height="2.2" rx="1.1" fill="#111" fill-opacity="0.65" filter="url(#bl)"/>
<rect x="82.1" y="174.35" width="9.6" height="2.3" rx="1.15" fill="#111" fill-opacity="0.68" filter="url(#bl)"/>
<rect x="82.1" y="177.8" width="9.6" height="2.2" rx="1.1" fill="#111" fill-opacity="0.65" filter="url(#bl)"/>
<rect x="93.8" y="174.35" width="9.6" height="2.3" rx="1.15" fill="#111" fill-opacity="0.25" filter="url(#bl)"/>
<rect x="93.8" y="177.8" width="9.6" height="2.2" rx="1.1" fill="#111" fill-opacity="0.24" filter="url(#bl)"/>
<rect x="105.9" y="174.35" width="9.6" height="2.3" rx="1.15" fill="#111" fill-opacity="0.78" filter="url(#bl)"/>
<rect x="105.9" y="177.8" width="9.6" height="2.2" rx="1.1" fill="#111" fill-opacity="0.74" filter="url(#bl)"/>
<rect x="117" y="174.35" width="9.6" height="2.3" rx="1.15" fill="#111" fill-opacity="0.78" filter="url(#bl)"/>
<rect x="117" y="177.8" width="9.6" height="2.2" rx="1.1" fill="#111" fill-opacity="0.74" filter="url(#bl)"/>
<rect x="128.4" y="174.35" width="9.6" height="2.3" rx="1.15" fill="#111" fill-opacity="0.72" filter="url(#bl)"/>
<rect x="128.4" y="177.8" width="9.6" height="2.2" rx="1.1" fill="#111" fill-opacity="0.68" filter="url(#bl)"/>
<rect x="139.4" y="174.35" width="9.6" height="2.3" rx="1.15" fill="#111" fill-opacity="0.72" filter="url(#bl)"/>
<rect x="139.4" y="177.8" width="9.6" height="2.2" rx="1.1" fill="#111" fill-opacity="0.68" filter="url(#bl)"/>
<rect x="58.7" y="186.8" width="9.6" height="2.2" rx="1.1" fill="#111" fill-opacity="0.75" filter="url(#bl)"/>
<rect x="70" y="186.8" width="9.6" height="2.2" rx="1.1" fill="#111" fill-opacity="0.75" filter="url(#bl)"/>
<rect x="82.1" y="186.8" width="9.6" height="2.2" rx="1.1" fill="#111" fill-opacity="0.68" filter="url(#bl)"/>
<rect x="93.8" y="186.8" width="9.6" height="2.2" rx="1.1" fill="#111" fill-opacity="0.68" filter="url(#bl)"/>
<rect x="105.9" y="186.8" width="9.6" height="2.2" rx="1.1" fill="#111" fill-opacity="0.78" filter="url(#bl)"/>
<rect x="117" y="186.8" width="9.6" height="2.2" rx="1.1" fill="#111" fill-opacity="0.78" filter="url(#bl)"/>
<rect x="128.4" y="186.8" width="9.6" height="2.2" rx="1.1" fill="#111" fill-opacity="0.72" filter="url(#bl)"/>
<rect x="139.4" y="186.8" width="9.6" height="2.2" rx="1.1" fill="#111" fill-opacity="0.72" filter="url(#bl)"/>
<rect x="58.6" y="197.5" width="9.8" height="3.2" rx="1.6" fill="#111" fill-opacity="0.85" filter="url(#bl)"/>
<rect x="69.9" y="197.6" width="9.8" height="3" rx="1.5" fill="#111" fill-opacity="0.82" filter="url(#bl)"/>
<rect x="82" y="197.7" width="9.8" height="2.8" rx="1.4" fill="#111" fill-opacity="0.78" filter="url(#bl)"/>
<rect x="93.7" y="198.3" width="9.8" height="1.6" rx="0.8" fill="#111" fill-opacity="0.2" filter="url(#bl)"/>
<rect x="105.8" y="197.2" width="9.8" height="3.8" rx="1.9" fill="#111" fill-opacity="0.9" filter="url(#bl)"/>
<rect x="116.9" y="197.2" width="9.8" height="3.8" rx="1.9" fill="#111" fill-opacity="0.9" filter="url(#bl)"/>
<rect x="128.3" y="197.4" width="9.8" height="3.4" rx="1.7" fill="#111" fill-opacity="0.85" filter="url(#bl)"/>
<rect x="139.3" y="197.5" width="9.8" height="3.2" rx="1.6" fill="#111" fill-opacity="0.82" filter="url(#bl)"/>
<rect x="58.1" y="209.5" width="10.8" height="2.4" rx="1.2" fill="#111" fill-opacity="0.75" filter="url(#bl)"/>
<rect x="69.4" y="209.5" width="10.8" height="2.4" rx="1.2" fill="#111" fill-opacity="0.75" filter="url(#bl)"/>
<rect x="81.5" y="209.5" width="10.8" height="2.4" rx="1.2" fill="#111" fill-opacity="0.75" filter="url(#bl)"/>
<rect x="93.2" y="209.5" width="10.8" height="2.4" rx="1.2" fill="#111" fill-opacity="0.75" filter="url(#bl)"/>
<rect x="105.3" y="209.5" width="10.8" height="2.4" rx="1.2" fill="#111" fill-opacity="0.75" filter="url(#bl)"/>
<rect x="116.4" y="209.5" width="10.8" height="2.4" rx="1.2" fill="#111" fill-opacity="0.75" filter="url(#bl)"/>
<rect x="127.8" y="209.5" width="10.8" height="2.4" rx="1.2" fill="#111" fill-opacity="0.75" filter="url(#bl)"/>
<rect x="138.8" y="209.5" width="10.8" height="2.4" rx="1.2" fill="#111" fill-opacity="0.75" filter="url(#bl)"/>
<text x="75.4" y="225.4" font-size="7.6" textLength="43.7" lengthAdjust="spacingAndGlyphs">MM.1S (K-RAS</text>
<text x="119.6" y="223" font-size="5.75" textLength="10.3" lengthAdjust="spacingAndGlyphs">G12A</text>
<text x="130.7" y="225.4" font-size="7.6">)</text>
<text x="178.1" y="169.3" font-size="6.94" textLength="25.7" lengthAdjust="spacingAndGlyphs">LEN(μM)</text>
<text x="209" y="157.42" font-size="6.72" textLength="23.5" lengthAdjust="spacingAndGlyphs">shCNTL</text>
<line x1="205.3" y1="161.3" x2="238.6" y2="161.3" stroke="#111" stroke-width="1"/>
<text x="244.7" y="157.42" font-size="6.72" textLength="25.3" lengthAdjust="spacingAndGlyphs">shCRBN</text>
<line x1="241.5" y1="161.3" x2="274" y2="161.3" stroke="#111" stroke-width="1"/>
<text x="210.9" y="169.88" font-size="7.17" text-anchor="middle" textLength="3.56" lengthAdjust="spacingAndGlyphs">0</text>
<text x="222.2" y="169.88" font-size="7.17" text-anchor="middle" textLength="3.56" lengthAdjust="spacingAndGlyphs">1</text>
<text x="233.8" y="169.88" font-size="7.17" text-anchor="middle" textLength="3.56" lengthAdjust="spacingAndGlyphs">3</text>
<text x="247.1" y="169.88" font-size="7.17" text-anchor="middle" textLength="3.56" lengthAdjust="spacingAndGlyphs">0</text>
<text x="258.5" y="169.88" font-size="7.17" text-anchor="middle" textLength="3.56" lengthAdjust="spacingAndGlyphs">1</text>
<text x="270" y="169.88" font-size="7.17" text-anchor="middle" textLength="3.56" lengthAdjust="spacingAndGlyphs">3</text>
<rect x="207.3" y="171.8" width="75.5" height="10.4" fill="#cfcfcf" stroke="#2a2a2a" stroke-width="0.75"/>
<text x="204.3" y="180.36" font-size="7.39" text-anchor="end" textLength="18.7" lengthAdjust="spacingAndGlyphs">CRBN</text>
<rect x="207.3" y="184.2" width="75.5" height="10" fill="#cfcfcf" stroke="#2a2a2a" stroke-width="0.75"/>
<text x="204.3" y="192.36" font-size="7.39" text-anchor="end" textLength="17.97" lengthAdjust="spacingAndGlyphs">IKZF1</text>
<rect x="207.3" y="196" width="75.5" height="9.7" fill="#cfcfcf" stroke="#2a2a2a" stroke-width="0.75"/>
<text x="204.3" y="202.76" font-size="7.39" text-anchor="end" textLength="19.93" lengthAdjust="spacingAndGlyphs">β-actin</text>
<rect x="208.18" y="175.9" width="10.82" height="4.8" rx="2.4" fill="#111" fill-opacity="0.87" filter="url(#bl)"/>
<rect x="220.76" y="176" width="10.82" height="4.6" rx="2.3" fill="#111" fill-opacity="0.87" filter="url(#bl)"/>
<rect x="233.35" y="176.1" width="10.82" height="4.4" rx="2.2" fill="#111" fill-opacity="0.87" filter="url(#bl)"/>
<rect x="245.93" y="177.3" width="10.82" height="2" rx="1" fill="#111" fill-opacity="0.72" filter="url(#bl)"/>
<rect x="258.51" y="177.3" width="10.82" height="2" rx="1" fill="#111" fill-opacity="0.72" filter="url(#bl)"/>
<rect x="271.1" y="177.1" width="10.82" height="2.4" rx="1.2" fill="#111" fill-opacity="0.77" filter="url(#bl)"/>
<rect x="208.18" y="187.7" width="10.82" height="3.4" rx="1.7" fill="#111" fill-opacity="0.81" filter="url(#bl)"/>
<rect x="220.76" y="188.2" width="10.82" height="2.4" rx="1.2" fill="#111" fill-opacity="0.54" filter="url(#bl)"/>
<rect x="233.35" y="188.3" width="10.82" height="2.2" rx="1.1" fill="#111" fill-opacity="0.54" filter="url(#bl)"/>
<rect x="245.93" y="187.6" width="10.82" height="3.6" rx="1.8" fill="#111" fill-opacity="0.63" filter="url(#bl)"/>
<rect x="258.51" y="187.5" width="10.82" height="3.8" rx="1.9" fill="#111" fill-opacity="0.77" filter="url(#bl)"/>
<rect x="271.1" y="187.6" width="10.82" height="3.6" rx="1.8" fill="#111" fill-opacity="0.72" filter="url(#bl)"/>
<rect x="208.18" y="199.6" width="10.82" height="2.8" rx="1.4" fill="#111" fill-opacity="0.85" filter="url(#bl)"/>
<rect x="220.76" y="199.6" width="10.82" height="2.8" rx="1.4" fill="#111" fill-opacity="0.85" filter="url(#bl)"/>
<rect x="233.35" y="199.6" width="10.82" height="2.8" rx="1.4" fill="#111" fill-opacity="0.85" filter="url(#bl)"/>
<rect x="245.93" y="199.6" width="10.82" height="2.8" rx="1.4" fill="#111" fill-opacity="0.85" filter="url(#bl)"/>
<rect x="258.51" y="199.6" width="10.82" height="2.8" rx="1.4" fill="#111" fill-opacity="0.85" filter="url(#bl)"/>
<rect x="271.1" y="199.6" width="10.82" height="2.8" rx="1.4" fill="#111" fill-opacity="0.85" filter="url(#bl)"/>
<text x="219.3" y="215.3" font-size="7.4" textLength="39.1" lengthAdjust="spacingAndGlyphs">H929 (N-RAS</text>
<text x="258.6" y="213.1" font-size="5.75" textLength="10.5" lengthAdjust="spacingAndGlyphs">G13D</text>
<text x="269.8" y="215.3" font-size="7.4">)</text>
<text x="293" y="169.3" font-size="6.94" textLength="34.3" lengthAdjust="spacingAndGlyphs">TL4-12(μM)</text>
<text x="331.6" y="157.42" font-size="6.72" textLength="24.2" lengthAdjust="spacingAndGlyphs">shCNTL</text>
<line x1="330.4" y1="161.3" x2="359.4" y2="161.3" stroke="#111" stroke-width="1"/>
<text x="367" y="157.42" font-size="6.72" textLength="25.7" lengthAdjust="spacingAndGlyphs">shCRBN</text>
<line x1="364.2" y1="161.3" x2="396.8" y2="161.3" stroke="#111" stroke-width="1"/>
<text x="334" y="169.88" font-size="7.17" text-anchor="middle" textLength="3.56" lengthAdjust="spacingAndGlyphs">0</text>
<text x="344.9" y="169.88" font-size="7.17" text-anchor="middle" textLength="3.56" lengthAdjust="spacingAndGlyphs">1</text>
<text x="356.3" y="169.88" font-size="7.17" text-anchor="middle" textLength="3.56" lengthAdjust="spacingAndGlyphs">3</text>
<text x="370.2" y="169.88" font-size="7.17" text-anchor="middle" textLength="3.56" lengthAdjust="spacingAndGlyphs">0</text>
<text x="381.5" y="169.88" font-size="7.17" text-anchor="middle" textLength="3.56" lengthAdjust="spacingAndGlyphs">1</text>
<text x="392.7" y="169.88" font-size="7.17" text-anchor="middle" textLength="3.56" lengthAdjust="spacingAndGlyphs">3</text>
<rect x="330.3" y="171.8" width="75.7" height="10.4" fill="#cfcfcf" stroke="#2a2a2a" stroke-width="0.75"/>
<text x="328.7" y="180.56" font-size="7.39" text-anchor="end" textLength="18.7" lengthAdjust="spacingAndGlyphs">CRBN</text>
<rect x="330.3" y="184.2" width="75.7" height="9.4" fill="#cfcfcf" stroke="#2a2a2a" stroke-width="0.75"/>
<text x="328.7" y="192.66" font-size="7.39" text-anchor="end" textLength="17.97" lengthAdjust="spacingAndGlyphs">IKZF1</text>
<rect x="330.3" y="196" width="75.7" height="9.7" fill="#cfcfcf" stroke="#2a2a2a" stroke-width="0.75"/>
<text x="328.7" y="202.56" font-size="7.39" text-anchor="end" textLength="19.93" lengthAdjust="spacingAndGlyphs">β-actin</text>
<rect x="331.18" y="176.3" width="10.85" height="4" rx="2" fill="#111" fill-opacity="0.85" filter="url(#bl)"/>
<rect x="343.8" y="176.2" width="10.85" height="4.2" rx="2.1" fill="#111" fill-opacity="0.87" filter="url(#bl)"/>
<rect x="356.42" y="176.3" width="10.85" height="4" rx="2" fill="#111" fill-opacity="0.85" filter="url(#bl)"/>
<rect x="369.03" y="177.2" width="10.85" height="2.2" rx="1.1" fill="#111" fill-opacity="0.68" filter="url(#bl)"/>
<rect x="381.65" y="176.8" width="10.85" height="3" rx="1.5" fill="#111" fill-opacity="0.81" filter="url(#bl)"/>
<rect x="394.27" y="177" width="10.85" height="2.6" rx="1.3" fill="#111" fill-opacity="0.77" filter="url(#bl)"/>
<rect x="331.18" y="187.2" width="10.85" height="3.4" rx="1.7" fill="#111" fill-opacity="0.81" filter="url(#bl)"/>
<rect x="343.8" y="187.7" width="10.85" height="2.4" rx="1.2" fill="#111" fill-opacity="0.63" filter="url(#bl)"/>
<rect x="356.42" y="187.9" width="10.85" height="2" rx="1" fill="#111" fill-opacity="0.5" filter="url(#bl)"/>
<rect x="369.03" y="186.7" width="10.85" height="4.4" rx="2.2" fill="#111" fill-opacity="0.87" filter="url(#bl)"/>
<rect x="381.65" y="187.7" width="10.85" height="2.4" rx="1.2" fill="#111" fill-opacity="0.54" filter="url(#bl)"/>
<rect x="394.27" y="187.4" width="10.85" height="3" rx="1.5" fill="#111" fill-opacity="0.72" filter="url(#bl)"/>
<rect x="331.18" y="199.6" width="10.85" height="2.8" rx="1.4" fill="#111" fill-opacity="0.85" filter="url(#bl)"/>
<rect x="343.8" y="199.6" width="10.85" height="2.8" rx="1.4" fill="#111" fill-opacity="0.85" filter="url(#bl)"/>
<rect x="356.42" y="199.6" width="10.85" height="2.8" rx="1.4" fill="#111" fill-opacity="0.85" filter="url(#bl)"/>
<rect x="369.03" y="199.6" width="10.85" height="2.8" rx="1.4" fill="#111" fill-opacity="0.85" filter="url(#bl)"/>
<rect x="381.65" y="199.6" width="10.85" height="2.8" rx="1.4" fill="#111" fill-opacity="0.85" filter="url(#bl)"/>
<rect x="394.27" y="199.6" width="10.85" height="2.8" rx="1.4" fill="#111" fill-opacity="0.85" filter="url(#bl)"/>
<text x="342" y="215.3" font-size="7.4" textLength="39.1" lengthAdjust="spacingAndGlyphs">H929 (N-RAS</text>
<text x="381.3" y="213.1" font-size="5.75" textLength="10.5" lengthAdjust="spacingAndGlyphs">G13D</text>
<text x="392.5" y="215.3" font-size="7.4">)</text>
<line x1="48.5" y1="257.5" x2="48.5" y2="312.1" stroke="#111" stroke-width="1.1"/>
<line x1="48" y1="311.6" x2="126.7" y2="311.6" stroke="#111" stroke-width="1.1"/>
<line x1="45.5" y1="311.6" x2="48.5" y2="311.6" stroke="#111" stroke-width="0.9"/>
<text x="42" y="314.1" font-size="6.94" text-anchor="end" textLength="3.45" lengthAdjust="spacingAndGlyphs">0</text>
<line x1="45.5" y1="302.93" x2="48.5" y2="302.93" stroke="#111" stroke-width="0.9"/>
<text x="42" y="305.43" font-size="6.94" text-anchor="end" textLength="6.9" lengthAdjust="spacingAndGlyphs">20</text>
<line x1="45.5" y1="294.26" x2="48.5" y2="294.26" stroke="#111" stroke-width="0.9"/>
<text x="42" y="296.76" font-size="6.94" text-anchor="end" textLength="6.9" lengthAdjust="spacingAndGlyphs">40</text>
<line x1="45.5" y1="285.59" x2="48.5" y2="285.59" stroke="#111" stroke-width="0.9"/>
<text x="42" y="288.09" font-size="6.94" text-anchor="end" textLength="6.9" lengthAdjust="spacingAndGlyphs">60</text>
<line x1="45.5" y1="276.92" x2="48.5" y2="276.92" stroke="#111" stroke-width="0.9"/>
<text x="42" y="279.42" font-size="6.94" text-anchor="end" textLength="6.9" lengthAdjust="spacingAndGlyphs">80</text>
<line x1="45.5" y1="268.25" x2="48.5" y2="268.25" stroke="#111" stroke-width="0.9"/>
<text x="42" y="270.75" font-size="6.94" text-anchor="end" textLength="10.35" lengthAdjust="spacingAndGlyphs">100</text>
<line x1="45.5" y1="259.58" x2="48.5" y2="259.58" stroke="#111" stroke-width="0.9"/>
<text x="42" y="262.08" font-size="6.94" text-anchor="end" textLength="10.35" lengthAdjust="spacingAndGlyphs">120</text>
<line x1="55" y1="311.6" x2="55" y2="315" stroke="#111" stroke-width="1"/>
<line x1="68.1" y1="311.6" x2="68.1" y2="315" stroke="#111" stroke-width="1"/>
<line x1="81.2" y1="311.6" x2="81.2" y2="315" stroke="#111" stroke-width="1"/>
<line x1="94.3" y1="311.6" x2="94.3" y2="315" stroke="#111" stroke-width="1"/>
<line x1="107.4" y1="311.6" x2="107.4" y2="315" stroke="#111" stroke-width="1"/>
<line x1="120.5" y1="311.6" x2="120.5" y2="315" stroke="#111" stroke-width="1"/>
<text x="0" y="0" font-size="6.6" text-anchor="end" transform="translate(57.6 321.6) rotate(-45)">0</text>
<text x="0" y="0" font-size="6.6" text-anchor="end" transform="translate(70.7 321.6) rotate(-45)">0.63</text>
<text x="0" y="0" font-size="6.6" text-anchor="end" transform="translate(83.8 321.6) rotate(-45)">1.25</text>
<text x="0" y="0" font-size="6.6" text-anchor="end" transform="translate(96.9 321.6) rotate(-45)">2.5</text>
<text x="0" y="0" font-size="6.6" text-anchor="end" transform="translate(110 321.6) rotate(-45)">5</text>
<text x="0" y="0" font-size="6.6" text-anchor="end" transform="translate(123.1 321.6) rotate(-45)">10</text>
<polyline points="55,268.25 68.1,273.02 81.2,278.22 94.3,287.76 107.4,295.34 120.5,299.46" fill="none" stroke="#b3143c" stroke-width="1.15"/>
<circle cx="55" cy="268.25" r="1" fill="#b3143c"/>
<circle cx="68.1" cy="273.02" r="1" fill="#b3143c"/>
<circle cx="81.2" cy="278.22" r="1" fill="#b3143c"/>
<circle cx="94.3" cy="287.76" r="1" fill="#b3143c"/>
<circle cx="107.4" cy="295.34" r="1" fill="#b3143c"/>
<circle cx="120.5" cy="299.46" r="1" fill="#b3143c"/>
<polyline points="55,268.25 68.1,273.02 81.2,273.02 94.3,272.15 107.4,272.15 120.5,273.02" fill="none" stroke="#2c4a86" stroke-width="1.15" stroke-dasharray="3.6,1.9"/>
<rect x="53.9" y="267.15" width="2.2" height="2.2" fill="#2c4a86"/>
<rect x="67" y="271.92" width="2.2" height="2.2" fill="#2c4a86"/>
<rect x="80.1" y="271.92" width="2.2" height="2.2" fill="#2c4a86"/>
<rect x="93.2" y="271.05" width="2.2" height="2.2" fill="#2c4a86"/>
<rect x="106.3" y="271.05" width="2.2" height="2.2" fill="#2c4a86"/>
<rect x="119.4" y="271.92" width="2.2" height="2.2" fill="#2c4a86"/>
<text x="81.2" y="268.1" font-size="5.6" text-anchor="middle" textLength="1.95" lengthAdjust="spacingAndGlyphs">*</text>
<text x="94.3" y="268.1" font-size="5.6" text-anchor="middle" textLength="1.95" lengthAdjust="spacingAndGlyphs">*</text>
<text x="107.4" y="267.2" font-size="5.6" text-anchor="middle" textLength="1.95" lengthAdjust="spacingAndGlyphs">*</text>
<text x="120.5" y="267.2" font-size="5.6" text-anchor="middle" textLength="1.95" lengthAdjust="spacingAndGlyphs">*</text>
<text x="20.6" y="324.08" font-size="7.17" textLength="27.9" lengthAdjust="spacingAndGlyphs">LEN (μM)</text>
<text x="0" y="0" font-size="7.78" text-anchor="middle" textLength="64" lengthAdjust="spacingAndGlyphs" transform="translate(14.2 283.4) rotate(-90)">Proliferation relative</text>
<text x="0" y="0" font-size="7.78" text-anchor="middle" textLength="23.5" lengthAdjust="spacingAndGlyphs" transform="translate(26.1 284.5) rotate(-90)">to CT %</text>
<line x1="93.2" y1="245.6" x2="99.4" y2="245.6" stroke="#b3143c" stroke-width="1"/>
<path d="M96.3,244.2 L97.7,245.6 L96.3,247 L94.9,245.6Z" fill="#b3143c"/>
<line x1="93.2" y1="252.8" x2="99.4" y2="252.8" stroke="#2c4a86" stroke-width="1"/>
<path d="M96.3,251.4 L97.7,252.8 L96.3,254.2 L94.9,252.8Z" fill="#2c4a86"/>
<text x="102.3" y="247.94" font-size="6.5" textLength="23.6" lengthAdjust="spacingAndGlyphs">shCNTL</text>
<text x="102.3" y="255.14" font-size="6.5" textLength="25" lengthAdjust="spacingAndGlyphs">shCRBN</text>
<text x="59.7" y="342.3" font-size="8.3" textLength="40.5" lengthAdjust="spacingAndGlyphs">H929 (N-RAS</text>
<text x="100.5" y="339.6" font-size="6.25" textLength="13.5" lengthAdjust="spacingAndGlyphs">G13D</text>
<text x="114.2" y="342.3" font-size="8.3">)</text>
<line x1="177.9" y1="257.5" x2="177.9" y2="312" stroke="#111" stroke-width="1.1"/>
<line x1="177.4" y1="311.5" x2="255.6" y2="311.5" stroke="#111" stroke-width="1.1"/>
<line x1="174.9" y1="311.5" x2="177.9" y2="311.5" stroke="#111" stroke-width="0.9"/>
<text x="172" y="314" font-size="6.94" text-anchor="end" textLength="3.6" lengthAdjust="spacingAndGlyphs">0</text>
<line x1="174.9" y1="302.84" x2="177.9" y2="302.84" stroke="#111" stroke-width="0.9"/>
<text x="172" y="305.34" font-size="6.94" text-anchor="end" textLength="7.2" lengthAdjust="spacingAndGlyphs">20</text>
<line x1="174.9" y1="294.18" x2="177.9" y2="294.18" stroke="#111" stroke-width="0.9"/>
<text x="172" y="296.68" font-size="6.94" text-anchor="end" textLength="7.2" lengthAdjust="spacingAndGlyphs">40</text>
<line x1="174.9" y1="285.52" x2="177.9" y2="285.52" stroke="#111" stroke-width="0.9"/>
<text x="172" y="288.02" font-size="6.94" text-anchor="end" textLength="7.2" lengthAdjust="spacingAndGlyphs">60</text>
<line x1="174.9" y1="276.86" x2="177.9" y2="276.86" stroke="#111" stroke-width="0.9"/>
<text x="172" y="279.36" font-size="6.94" text-anchor="end" textLength="7.2" lengthAdjust="spacingAndGlyphs">80</text>
<line x1="174.9" y1="268.2" x2="177.9" y2="268.2" stroke="#111" stroke-width="0.9"/>
<text x="172" y="270.7" font-size="6.94" text-anchor="end" textLength="10.8" lengthAdjust="spacingAndGlyphs">100</text>
<line x1="174.9" y1="259.54" x2="177.9" y2="259.54" stroke="#111" stroke-width="0.9"/>
<text x="172" y="262.04" font-size="6.94" text-anchor="end" textLength="10.8" lengthAdjust="spacingAndGlyphs">120</text>
<line x1="184" y1="311.5" x2="184" y2="314.9" stroke="#111" stroke-width="1"/>
<line x1="197" y1="311.5" x2="197" y2="314.9" stroke="#111" stroke-width="1"/>
<line x1="210" y1="311.5" x2="210" y2="314.9" stroke="#111" stroke-width="1"/>
<line x1="223" y1="311.5" x2="223" y2="314.9" stroke="#111" stroke-width="1"/>
<line x1="236" y1="311.5" x2="236" y2="314.9" stroke="#111" stroke-width="1"/>
<line x1="249" y1="311.5" x2="249" y2="314.9" stroke="#111" stroke-width="1"/>
<text x="0" y="0" font-size="6.6" text-anchor="end" transform="translate(186.6 321.5) rotate(-45)">0</text>
<text x="0" y="0" font-size="6.6" text-anchor="end" transform="translate(199.6 321.5) rotate(-45)">0.63</text>
<text x="0" y="0" font-size="6.6" text-anchor="end" transform="translate(212.6 321.5) rotate(-45)">1.25</text>
<text x="0" y="0" font-size="6.6" text-anchor="end" transform="translate(225.6 321.5) rotate(-45)">2.5</text>
<text x="0" y="0" font-size="6.6" text-anchor="end" transform="translate(238.6 321.5) rotate(-45)">5</text>
<text x="0" y="0" font-size="6.6" text-anchor="end" transform="translate(251.6 321.5) rotate(-45)">10</text>
<polyline points="184,268.2 197,273.83 210,278.59 223,283.79 236,290.28 249,297.21" fill="none" stroke="#b3143c" stroke-width="1.15"/>
<circle cx="184" cy="268.2" r="1" fill="#b3143c"/>
<circle cx="197" cy="273.83" r="1" fill="#b3143c"/>
<circle cx="210" cy="278.59" r="1" fill="#b3143c"/>
<circle cx="223" cy="283.79" r="1" fill="#b3143c"/>
<circle cx="236" cy="290.28" r="1" fill="#b3143c"/>
<circle cx="249" cy="297.21" r="1" fill="#b3143c"/>
<polyline points="184,268.2 197,275.99 210,280.32 223,283.79 236,288.98 249,300.24" fill="none" stroke="#2c4a86" stroke-width="1.15" stroke-dasharray="3.6,1.9"/>
<rect x="182.9" y="267.1" width="2.2" height="2.2" fill="#2c4a86"/>
<rect x="195.9" y="274.89" width="2.2" height="2.2" fill="#2c4a86"/>
<rect x="208.9" y="279.22" width="2.2" height="2.2" fill="#2c4a86"/>
<rect x="221.9" y="282.69" width="2.2" height="2.2" fill="#2c4a86"/>
<rect x="234.9" y="287.88" width="2.2" height="2.2" fill="#2c4a86"/>
<rect x="247.9" y="299.14" width="2.2" height="2.2" fill="#2c4a86"/>
<text x="142.5" y="323.52" font-size="6.72" textLength="35.2" lengthAdjust="spacingAndGlyphs">TL4-12 (μM)</text>
<text x="0" y="0" font-size="7.78" text-anchor="middle" textLength="63" lengthAdjust="spacingAndGlyphs" transform="translate(144.2 284) rotate(-90)">Proliferation relative</text>
<text x="0" y="0" font-size="7.78" text-anchor="middle" textLength="22.4" lengthAdjust="spacingAndGlyphs" transform="translate(156.1 283.9) rotate(-90)">to CT %</text>
<line x1="224.3" y1="246" x2="230.2" y2="246" stroke="#b3143c" stroke-width="1"/>
<path d="M227.25,244.6 L228.65,246 L227.25,247.4 L225.85,246Z" fill="#b3143c"/>
<line x1="224.3" y1="252.5" x2="230.2" y2="252.5" stroke="#2c4a86" stroke-width="1"/>
<path d="M227.25,251.1 L228.65,252.5 L227.25,253.9 L225.85,252.5Z" fill="#2c4a86"/>
<text x="231.7" y="248.34" font-size="6.5" textLength="23.6" lengthAdjust="spacingAndGlyphs">shCNTL</text>
<text x="231.7" y="254.84" font-size="6.5" textLength="25" lengthAdjust="spacingAndGlyphs">shCRBN</text>
<text x="189.1" y="342" font-size="8.3" textLength="40" lengthAdjust="spacingAndGlyphs">H929 (N-RAS</text>
<text x="229.5" y="339.5" font-size="6.25" textLength="13" lengthAdjust="spacingAndGlyphs">G13D</text>
<text x="243.7" y="342" font-size="8.3">)</text>
<line x1="316.1" y1="261.5" x2="316.1" y2="312" stroke="#111" stroke-width="1.1"/>
<line x1="315.6" y1="311.5" x2="387" y2="311.5" stroke="#111" stroke-width="1.1"/>
<line x1="313.1" y1="311.5" x2="316.1" y2="311.5" stroke="#111" stroke-width="0.9"/>
<text x="309.4" y="314" font-size="6.94" text-anchor="end" textLength="3.5" lengthAdjust="spacingAndGlyphs">0</text>
<line x1="313.1" y1="303.48" x2="316.1" y2="303.48" stroke="#111" stroke-width="0.9"/>
<text x="309.4" y="305.98" font-size="6.94" text-anchor="end" textLength="7" lengthAdjust="spacingAndGlyphs">20</text>
<line x1="313.1" y1="295.46" x2="316.1" y2="295.46" stroke="#111" stroke-width="0.9"/>
<text x="309.4" y="297.96" font-size="6.94" text-anchor="end" textLength="7" lengthAdjust="spacingAndGlyphs">40</text>
<line x1="313.1" y1="287.44" x2="316.1" y2="287.44" stroke="#111" stroke-width="0.9"/>
<text x="309.4" y="289.94" font-size="6.94" text-anchor="end" textLength="7" lengthAdjust="spacingAndGlyphs">60</text>
<line x1="313.1" y1="279.42" x2="316.1" y2="279.42" stroke="#111" stroke-width="0.9"/>
<text x="309.4" y="281.92" font-size="6.94" text-anchor="end" textLength="7" lengthAdjust="spacingAndGlyphs">80</text>
<line x1="313.1" y1="271.4" x2="316.1" y2="271.4" stroke="#111" stroke-width="0.9"/>
<text x="309.4" y="273.9" font-size="6.94" text-anchor="end" textLength="10.5" lengthAdjust="spacingAndGlyphs">100</text>
<line x1="313.1" y1="263.38" x2="316.1" y2="263.38" stroke="#111" stroke-width="0.9"/>
<text x="309.4" y="265.88" font-size="6.94" text-anchor="end" textLength="10.5" lengthAdjust="spacingAndGlyphs">120</text>
<line x1="320" y1="311.5" x2="320" y2="314.9" stroke="#111" stroke-width="1"/>
<line x1="328.05" y1="311.5" x2="328.05" y2="314.9" stroke="#111" stroke-width="1"/>
<line x1="336.1" y1="311.5" x2="336.1" y2="314.9" stroke="#111" stroke-width="1"/>
<line x1="344.15" y1="311.5" x2="344.15" y2="314.9" stroke="#111" stroke-width="1"/>
<line x1="352.2" y1="311.5" x2="352.2" y2="314.9" stroke="#111" stroke-width="1"/>
<line x1="360.25" y1="311.5" x2="360.25" y2="314.9" stroke="#111" stroke-width="1"/>
<line x1="368.3" y1="311.5" x2="368.3" y2="314.9" stroke="#111" stroke-width="1"/>
<line x1="376.35" y1="311.5" x2="376.35" y2="314.9" stroke="#111" stroke-width="1"/>
<line x1="384.4" y1="311.5" x2="384.4" y2="314.9" stroke="#111" stroke-width="1"/>
<text x="0" y="0" font-size="6.4" text-anchor="end" transform="translate(322.6 321.3) rotate(-45)">0</text>
<text x="0" y="0" font-size="6.4" text-anchor="end" transform="translate(330.65 321.3) rotate(-45)">0.16</text>
<text x="0" y="0" font-size="6.4" text-anchor="end" transform="translate(338.7 321.3) rotate(-45)">0.31</text>
<text x="0" y="0" font-size="6.4" text-anchor="end" transform="translate(346.75 321.3) rotate(-45)">0.63</text>
<text x="0" y="0" font-size="6.4" text-anchor="end" transform="translate(354.8 321.3) rotate(-45)">1.25</text>
<text x="0" y="0" font-size="6.4" text-anchor="end" transform="translate(362.85 321.3) rotate(-45)">2.5</text>
<text x="0" y="0" font-size="6.4" text-anchor="end" transform="translate(370.9 321.3) rotate(-45)">5</text>
<text x="0" y="0" font-size="6.4" text-anchor="end" transform="translate(378.95 321.3) rotate(-45)">10</text>
<text x="0" y="0" font-size="6.4" text-anchor="end" transform="translate(387 321.3) rotate(-45)">20</text>
<polyline points="320,271.88 328.05,269.6 336.1,268.59 344.15,268.59 352.2,270.52 360.25,276.49 368.3,300.31 376.35,306.09 384.4,305.4" fill="none" stroke="#b3143c" stroke-width="1.15"/>
<line x1="320" y1="271.08" x2="320" y2="272.68" stroke="#111" stroke-width="0.9"/>
<line x1="318.6" y1="271.08" x2="321.4" y2="271.08" stroke="#111" stroke-width="0.9"/>
<line x1="318.6" y1="272.68" x2="321.4" y2="272.68" stroke="#111" stroke-width="0.9"/>
<rect x="318.9" y="270.78" width="2.2" height="2.2" fill="#b3143c"/>
<line x1="328.05" y1="267.19" x2="328.05" y2="272" stroke="#111" stroke-width="0.9"/>
<line x1="326.65" y1="267.19" x2="329.45" y2="267.19" stroke="#111" stroke-width="0.9"/>
<line x1="326.65" y1="272" x2="329.45" y2="272" stroke="#111" stroke-width="0.9"/>
<rect x="326.95" y="268.5" width="2.2" height="2.2" fill="#b3143c"/>
<line x1="336.1" y1="267.19" x2="336.1" y2="270" stroke="#111" stroke-width="0.9"/>
<line x1="334.7" y1="267.19" x2="337.5" y2="267.19" stroke="#111" stroke-width="0.9"/>
<line x1="334.7" y1="270" x2="337.5" y2="270" stroke="#111" stroke-width="0.9"/>
<rect x="335" y="267.49" width="2.2" height="2.2" fill="#b3143c"/>
<line x1="344.15" y1="267.19" x2="344.15" y2="270" stroke="#111" stroke-width="0.9"/>
<line x1="342.75" y1="267.19" x2="345.55" y2="267.19" stroke="#111" stroke-width="0.9"/>
<line x1="342.75" y1="270" x2="345.55" y2="270" stroke="#111" stroke-width="0.9"/>
<rect x="343.05" y="267.49" width="2.2" height="2.2" fill="#b3143c"/>
<line x1="352.2" y1="269.31" x2="352.2" y2="271.72" stroke="#111" stroke-width="0.9"/>
<line x1="350.8" y1="269.31" x2="353.6" y2="269.31" stroke="#111" stroke-width="0.9"/>
<line x1="350.8" y1="271.72" x2="353.6" y2="271.72" stroke="#111" stroke-width="0.9"/>
<rect x="351.1" y="269.42" width="2.2" height="2.2" fill="#b3143c"/>
<rect x="359.15" y="275.39" width="2.2" height="2.2" fill="#b3143c"/>
<rect x="367.2" y="299.21" width="2.2" height="2.2" fill="#b3143c"/>
<line x1="376.35" y1="305.49" x2="376.35" y2="306.69" stroke="#111" stroke-width="0.9"/>
<line x1="374.95" y1="305.49" x2="377.75" y2="305.49" stroke="#111" stroke-width="0.9"/>
<line x1="374.95" y1="306.69" x2="377.75" y2="306.69" stroke="#111" stroke-width="0.9"/>
<rect x="375.25" y="304.99" width="2.2" height="2.2" fill="#b3143c"/>
<line x1="384.4" y1="304.6" x2="384.4" y2="306.21" stroke="#111" stroke-width="0.9"/>
<line x1="383" y1="304.6" x2="385.8" y2="304.6" stroke="#111" stroke-width="0.9"/>
<line x1="383" y1="306.21" x2="385.8" y2="306.21" stroke="#111" stroke-width="0.9"/>
<rect x="383.3" y="304.3" width="2.2" height="2.2" fill="#b3143c"/>
<polyline points="320,281.3 328.05,280.1 336.1,282.71 344.15,285.92 352.2,292.81 360.25,302.92 368.3,308.29 376.35,308.01 384.4,308.69" fill="none" stroke="#2c4a86" stroke-width="1.15" stroke-dasharray="3.6,1.9"/>
<rect x="318.9" y="280.2" width="2.2" height="2.2" fill="#2c4a86"/>
<line x1="328.05" y1="279.3" x2="328.05" y2="280.9" stroke="#111" stroke-width="0.9"/>
<line x1="326.65" y1="279.3" x2="329.45" y2="279.3" stroke="#111" stroke-width="0.9"/>
<line x1="326.65" y1="280.9" x2="329.45" y2="280.9" stroke="#111" stroke-width="0.9"/>
<rect x="326.95" y="279" width="2.2" height="2.2" fill="#2c4a86"/>
<line x1="336.1" y1="281.3" x2="336.1" y2="284.11" stroke="#111" stroke-width="0.9"/>
<line x1="334.7" y1="281.3" x2="337.5" y2="281.3" stroke="#111" stroke-width="0.9"/>
<line x1="334.7" y1="284.11" x2="337.5" y2="284.11" stroke="#111" stroke-width="0.9"/>
<rect x="335" y="281.61" width="2.2" height="2.2" fill="#2c4a86"/>
<rect x="343.05" y="284.82" width="2.2" height="2.2" fill="#2c4a86"/>
<line x1="352.2" y1="292.01" x2="352.2" y2="293.62" stroke="#111" stroke-width="0.9"/>
<line x1="350.8" y1="292.01" x2="353.6" y2="292.01" stroke="#111" stroke-width="0.9"/>
<line x1="350.8" y1="293.62" x2="353.6" y2="293.62" stroke="#111" stroke-width="0.9"/>
<rect x="351.1" y="291.71" width="2.2" height="2.2" fill="#2c4a86"/>
<rect x="359.15" y="301.82" width="2.2" height="2.2" fill="#2c4a86"/>
<rect x="367.2" y="307.19" width="2.2" height="2.2" fill="#2c4a86"/>
<rect x="375.25" y="306.91" width="2.2" height="2.2" fill="#2c4a86"/>
<rect x="383.3" y="307.59" width="2.2" height="2.2" fill="#2c4a86"/>
<text x="287.9" y="324.28" font-size="7.17" textLength="28" lengthAdjust="spacingAndGlyphs">LEN (μM)</text>
<text x="0" y="0" font-size="7.78" text-anchor="middle" textLength="64" lengthAdjust="spacingAndGlyphs" transform="translate(283.2 285.5) rotate(-90)">Proliferation relative</text>
<text x="0" y="0" font-size="7.78" text-anchor="middle" textLength="23" lengthAdjust="spacingAndGlyphs" transform="translate(293.6 286.4) rotate(-90)">to CT %</text>
<line x1="336.4" y1="245.6" x2="343.4" y2="245.6" stroke="#b3143c" stroke-width="1"/>
<path d="M339.9,244.2 L341.3,245.6 L339.9,247 L338.5,245.6Z" fill="#b3143c"/>
<line x1="336.4" y1="252.9" x2="343.4" y2="252.9" stroke="#2c4a86" stroke-width="1"/>
<path d="M339.9,251.5 L341.3,252.9 L339.9,254.3 L338.5,252.9Z" fill="#2c4a86"/>
<text x="345.8" y="247.94" font-size="6.5" textLength="42.6" lengthAdjust="spacingAndGlyphs">shRNA control</text>
<text x="345.8" y="255.24" font-size="6.5" textLength="35.7" lengthAdjust="spacingAndGlyphs">shRNA GCK</text>
<text x="323" y="342.4" font-size="8.3" textLength="43.4" lengthAdjust="spacingAndGlyphs">MM.1S (K-RAS</text>
<text x="366.8" y="339.8" font-size="6.25" textLength="12.4" lengthAdjust="spacingAndGlyphs">G12A</text>
<text x="380.2" y="342.4" font-size="8.3">)</text>
<line x1="439.6" y1="261.5" x2="439.6" y2="312.1" stroke="#111" stroke-width="1.1"/>
<line x1="439.1" y1="311.6" x2="511.4" y2="311.6" stroke="#111" stroke-width="1.1"/>
<line x1="436.6" y1="311.6" x2="439.6" y2="311.6" stroke="#111" stroke-width="0.9"/>
<text x="432.3" y="314.1" font-size="6.94" text-anchor="end" textLength="3.5" lengthAdjust="spacingAndGlyphs">0</text>
<line x1="436.6" y1="303.6" x2="439.6" y2="303.6" stroke="#111" stroke-width="0.9"/>
<text x="432.3" y="306.1" font-size="6.94" text-anchor="end" textLength="7" lengthAdjust="spacingAndGlyphs">20</text>
<line x1="436.6" y1="295.6" x2="439.6" y2="295.6" stroke="#111" stroke-width="0.9"/>
<text x="432.3" y="298.1" font-size="6.94" text-anchor="end" textLength="7" lengthAdjust="spacingAndGlyphs">40</text>
<line x1="436.6" y1="287.6" x2="439.6" y2="287.6" stroke="#111" stroke-width="0.9"/>
<text x="432.3" y="290.1" font-size="6.94" text-anchor="end" textLength="7" lengthAdjust="spacingAndGlyphs">60</text>
<line x1="436.6" y1="279.6" x2="439.6" y2="279.6" stroke="#111" stroke-width="0.9"/>
<text x="432.3" y="282.1" font-size="6.94" text-anchor="end" textLength="7" lengthAdjust="spacingAndGlyphs">80</text>
<line x1="436.6" y1="271.6" x2="439.6" y2="271.6" stroke="#111" stroke-width="0.9"/>
<text x="432.3" y="274.1" font-size="6.94" text-anchor="end" textLength="10.5" lengthAdjust="spacingAndGlyphs">100</text>
<line x1="436.6" y1="263.6" x2="439.6" y2="263.6" stroke="#111" stroke-width="0.9"/>
<text x="432.3" y="266.1" font-size="6.94" text-anchor="end" textLength="10.5" lengthAdjust="spacingAndGlyphs">120</text>
<line x1="443.4" y1="311.6" x2="443.4" y2="315" stroke="#111" stroke-width="1"/>
<line x1="451.57" y1="311.6" x2="451.57" y2="315" stroke="#111" stroke-width="1"/>
<line x1="459.74" y1="311.6" x2="459.74" y2="315" stroke="#111" stroke-width="1"/>
<line x1="467.91" y1="311.6" x2="467.91" y2="315" stroke="#111" stroke-width="1"/>
<line x1="476.08" y1="311.6" x2="476.08" y2="315" stroke="#111" stroke-width="1"/>
<line x1="484.25" y1="311.6" x2="484.25" y2="315" stroke="#111" stroke-width="1"/>
<line x1="492.42" y1="311.6" x2="492.42" y2="315" stroke="#111" stroke-width="1"/>
<line x1="500.59" y1="311.6" x2="500.59" y2="315" stroke="#111" stroke-width="1"/>
<line x1="508.76" y1="311.6" x2="508.76" y2="315" stroke="#111" stroke-width="1"/>
<text x="0" y="0" font-size="6.4" text-anchor="end" transform="translate(446 321.4) rotate(-45)">0</text>
<text x="0" y="0" font-size="6.4" text-anchor="end" transform="translate(454.17 321.4) rotate(-45)">0.16</text>
<text x="0" y="0" font-size="6.4" text-anchor="end" transform="translate(462.34 321.4) rotate(-45)">0.31</text>
<text x="0" y="0" font-size="6.4" text-anchor="end" transform="translate(470.51 321.4) rotate(-45)">0.63</text>
<text x="0" y="0" font-size="6.4" text-anchor="end" transform="translate(478.68 321.4) rotate(-45)">1.25</text>
<text x="0" y="0" font-size="6.4" text-anchor="end" transform="translate(486.85 321.4) rotate(-45)">2.5</text>
<text x="0" y="0" font-size="6.4" text-anchor="end" transform="translate(495.02 321.4) rotate(-45)">5</text>
<text x="0" y="0" font-size="6.4" text-anchor="end" transform="translate(503.19 321.4) rotate(-45)">10</text>
<text x="0" y="0" font-size="6.4" text-anchor="end" transform="translate(511.36 321.4) rotate(-45)">20</text>
<polyline points="443.4,271.92 451.57,272.2 459.74,272.48 467.91,271.92 476.08,274.4 484.25,273.92 492.42,274.4 500.59,278.72 508.76,296.4" fill="none" stroke="#b3143c" stroke-width="1.15"/>
<line x1="443.4" y1="271.12" x2="443.4" y2="272.72" stroke="#111" stroke-width="0.9"/>
<line x1="442" y1="271.12" x2="444.8" y2="271.12" stroke="#111" stroke-width="0.9"/>
<line x1="442" y1="272.72" x2="444.8" y2="272.72" stroke="#111" stroke-width="0.9"/>
<rect x="442.3" y="270.82" width="2.2" height="2.2" fill="#b3143c"/>
<line x1="451.57" y1="271" x2="451.57" y2="273.4" stroke="#111" stroke-width="0.9"/>
<line x1="450.17" y1="271" x2="452.97" y2="271" stroke="#111" stroke-width="0.9"/>
<line x1="450.17" y1="273.4" x2="452.97" y2="273.4" stroke="#111" stroke-width="0.9"/>
<rect x="450.47" y="271.1" width="2.2" height="2.2" fill="#b3143c"/>
<line x1="459.74" y1="270.68" x2="459.74" y2="274.28" stroke="#111" stroke-width="0.9"/>
<line x1="458.34" y1="270.68" x2="461.14" y2="270.68" stroke="#111" stroke-width="0.9"/>
<line x1="458.34" y1="274.28" x2="461.14" y2="274.28" stroke="#111" stroke-width="0.9"/>
<rect x="458.64" y="271.38" width="2.2" height="2.2" fill="#b3143c"/>
<line x1="467.91" y1="271.32" x2="467.91" y2="272.52" stroke="#111" stroke-width="0.9"/>
<line x1="466.51" y1="271.32" x2="469.31" y2="271.32" stroke="#111" stroke-width="0.9"/>
<line x1="466.51" y1="272.52" x2="469.31" y2="272.52" stroke="#111" stroke-width="0.9"/>
<rect x="466.81" y="270.82" width="2.2" height="2.2" fill="#b3143c"/>
<rect x="474.98" y="273.3" width="2.2" height="2.2" fill="#b3143c"/>
<line x1="484.25" y1="272.52" x2="484.25" y2="275.32" stroke="#111" stroke-width="0.9"/>
<line x1="482.85" y1="272.52" x2="485.65" y2="272.52" stroke="#111" stroke-width="0.9"/>
<line x1="482.85" y1="275.32" x2="485.65" y2="275.32" stroke="#111" stroke-width="0.9"/>
<rect x="483.15" y="272.82" width="2.2" height="2.2" fill="#b3143c"/>
<line x1="492.42" y1="273" x2="492.42" y2="275.8" stroke="#111" stroke-width="0.9"/>
<line x1="491.02" y1="273" x2="493.82" y2="273" stroke="#111" stroke-width="0.9"/>
<line x1="491.02" y1="275.8" x2="493.82" y2="275.8" stroke="#111" stroke-width="0.9"/>
<rect x="491.32" y="273.3" width="2.2" height="2.2" fill="#b3143c"/>
<rect x="499.49" y="277.62" width="2.2" height="2.2" fill="#b3143c"/>
<rect x="507.66" y="295.3" width="2.2" height="2.2" fill="#b3143c"/>
<polyline points="443.4,282.72 451.57,281.32 459.74,281.32 467.91,279 476.08,282.04 484.25,282.04 492.42,283.72 500.59,293.8 508.76,296.4" fill="none" stroke="#2c4a86" stroke-width="1.15" stroke-dasharray="3.6,1.9"/>
<line x1="443.4" y1="280.32" x2="443.4" y2="285.12" stroke="#111" stroke-width="0.9"/>
<line x1="442" y1="280.32" x2="444.8" y2="280.32" stroke="#111" stroke-width="0.9"/>
<line x1="442" y1="285.12" x2="444.8" y2="285.12" stroke="#111" stroke-width="0.9"/>
<rect x="442.3" y="281.62" width="2.2" height="2.2" fill="#2c4a86"/>
<line x1="451.57" y1="279.92" x2="451.57" y2="282.72" stroke="#111" stroke-width="0.9"/>
<line x1="450.17" y1="279.92" x2="452.97" y2="279.92" stroke="#111" stroke-width="0.9"/>
<line x1="450.17" y1="282.72" x2="452.97" y2="282.72" stroke="#111" stroke-width="0.9"/>
<rect x="450.47" y="280.22" width="2.2" height="2.2" fill="#2c4a86"/>
<line x1="459.74" y1="278.12" x2="459.74" y2="284.52" stroke="#111" stroke-width="0.9"/>
<line x1="458.34" y1="278.12" x2="461.14" y2="278.12" stroke="#111" stroke-width="0.9"/>
<line x1="458.34" y1="284.52" x2="461.14" y2="284.52" stroke="#111" stroke-width="0.9"/>
<rect x="458.64" y="280.22" width="2.2" height="2.2" fill="#2c4a86"/>
<line x1="467.91" y1="277" x2="467.91" y2="281" stroke="#111" stroke-width="0.9"/>
<line x1="466.51" y1="277" x2="469.31" y2="277" stroke="#111" stroke-width="0.9"/>
<line x1="466.51" y1="281" x2="469.31" y2="281" stroke="#111" stroke-width="0.9"/>
<rect x="466.81" y="277.9" width="2.2" height="2.2" fill="#2c4a86"/>
<rect x="474.98" y="280.94" width="2.2" height="2.2" fill="#2c4a86"/>
<rect x="483.15" y="280.94" width="2.2" height="2.2" fill="#2c4a86"/>
<line x1="492.42" y1="281.32" x2="492.42" y2="286.12" stroke="#111" stroke-width="0.9"/>
<line x1="491.02" y1="281.32" x2="493.82" y2="281.32" stroke="#111" stroke-width="0.9"/>
<line x1="491.02" y1="286.12" x2="493.82" y2="286.12" stroke="#111" stroke-width="0.9"/>
<rect x="491.32" y="282.62" width="2.2" height="2.2" fill="#2c4a86"/>
<rect x="499.49" y="292.7" width="2.2" height="2.2" fill="#2c4a86"/>
<line x1="508.76" y1="294.8" x2="508.76" y2="298" stroke="#111" stroke-width="0.9"/>
<line x1="507.36" y1="294.8" x2="510.16" y2="294.8" stroke="#111" stroke-width="0.9"/>
<line x1="507.36" y1="298" x2="510.16" y2="298" stroke="#111" stroke-width="0.9"/>
<rect x="507.66" y="295.3" width="2.2" height="2.2" fill="#2c4a86"/>
<text x="409.9" y="323.18" font-size="7.17" textLength="27.8" lengthAdjust="spacingAndGlyphs">LEN(μM)</text>
<text x="0" y="0" font-size="7.78" text-anchor="middle" textLength="63" lengthAdjust="spacingAndGlyphs" transform="translate(408.2 286) rotate(-90)">Proliferation relative</text>
<text x="0" y="0" font-size="7.78" text-anchor="middle" textLength="23.4" lengthAdjust="spacingAndGlyphs" transform="translate(418.6 286.6) rotate(-90)">to CT %</text>
<line x1="448.9" y1="245.6" x2="456.5" y2="245.6" stroke="#b3143c" stroke-width="1"/>
<path d="M452.7,244.2 L454.1,245.6 L452.7,247 L451.3,245.6Z" fill="#b3143c"/>
<line x1="448.9" y1="252.9" x2="456.5" y2="252.9" stroke="#2c4a86" stroke-width="1"/>
<path d="M452.7,251.5 L454.1,252.9 L452.7,254.3 L451.3,252.9Z" fill="#2c4a86"/>
<text x="458.6" y="247.94" font-size="6.5" textLength="44" lengthAdjust="spacingAndGlyphs">shRNA control</text>
<text x="458.6" y="255.24" font-size="6.5" textLength="35.4" lengthAdjust="spacingAndGlyphs">shRNA GCK</text>
<text x="439.4" y="342.5" font-size="8.3" textLength="56.2" lengthAdjust="spacingAndGlyphs">RPMI-8226 (K-RAS</text>
<text x="496.5" y="339.5" font-size="6.25" textLength="13.2" lengthAdjust="spacingAndGlyphs">G12A</text>
<text x="510.8" y="342.5" font-size="8.3">)</text>
<rect x="0.5" y="0.5" width="519" height="351" fill="none" stroke="#000" stroke-width="1"/>
</svg></body></html>
